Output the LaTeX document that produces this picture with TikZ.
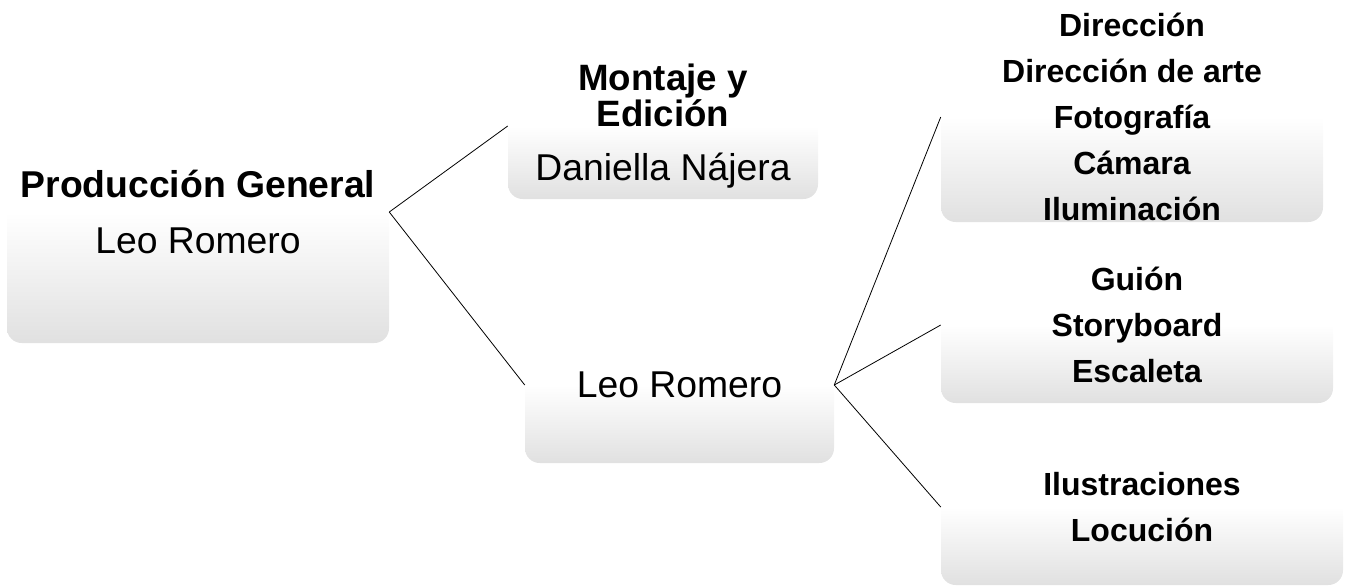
\documentclass[tikz,border=0pt]{standalone}
\usepackage{fontspec}
\setmainfont{Liberation Sans}
\begin{document}
\begin{tikzpicture}[x=0.75pt,y=-0.75pt,
  box/.style={rounded corners=11pt, inner sep=0pt, align=center,
    top color=white, bottom color=black!12, middle color=white, text=black},
  list/.style={font=\fontsize{24}{34.5}\selectfont\bfseries},
  link/.style={draw=black, line width=0.6pt}]
\useasboundingbox (0,0) rectangle (1346,586);
\node[box, minimum width=286.5pt, minimum height=196.5pt] (pg) at (198,212)
  {\fontsize{28}{30}\selectfont\bfseries Producción General\\[21pt]
   \fontsize{28}{30}\selectfont\mdseries Leo Romero};
\node[box, minimum width=232.5pt, minimum height=109.5pt] (me) at (663,126)
  {\fontsize{27.5}{26}\selectfont\bfseries Montaje y\\
   \fontsize{27.5}{26}\selectfont\bfseries Edición\\[18.5pt]
   \fontsize{28}{28}\selectfont\mdseries Daniella Nájera};
\node[box, minimum width=231.75pt, minimum height=117pt] (lr) at (679.5,385)
  {\fontsize{28}{30}\selectfont Leo Romero};
\node[box, list, minimum width=286.5pt, minimum height=157.5pt] (dir) at (1132,117)
  {Dirección\\ Dirección de arte\\ Fotografía\\ Cámara\\ Iluminación};
\node[box, list, minimum width=294pt, minimum height=117pt] (gui) at (1137,325)
  {Guión\\ Storyboard\\ Escaleta};
\node[box, list, minimum width=301.5pt, minimum height=117pt] (ilu) at (1142,507)
  {Ilustraciones\\ Locución};
\draw[link] (pg.east) -- (me.west);
\draw[link] (pg.east) -- (lr.west);
\draw[link] (lr.east) -- (dir.west);
\draw[link] (lr.east) -- (gui.west);
\draw[link] (lr.east) -- (ilu.west);
\end{tikzpicture}
\end{document}
